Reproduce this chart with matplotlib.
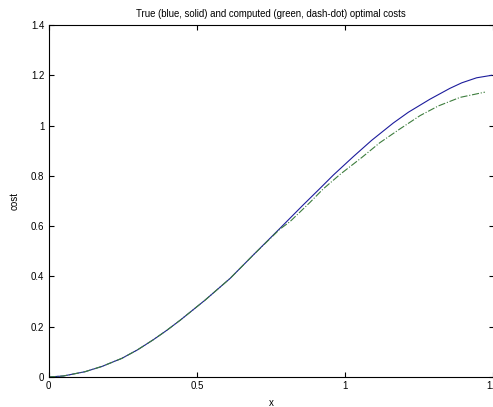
import numpy as np
import matplotlib.pyplot as plt

# True optimal cost (blue, solid)
x_true = [0.0, 0.05, 0.123, 0.18, 0.247, 0.30, 0.353, 0.398, 0.444, 0.527, 0.612, 0.690,
          0.780, 0.859, 0.915, 0.960, 1.027, 1.089, 1.162, 1.213, 1.286, 1.353,
          1.393, 1.443, 1.494]
cost_true = [0.0, 0.004, 0.021, 0.042, 0.074, 0.108, 0.148, 0.185, 0.226, 0.305, 0.392,
             0.485, 0.591, 0.685, 0.750, 0.803, 0.876, 0.941, 1.010, 1.053, 1.105,
             1.148, 1.170, 1.190, 1.200]

# Computed optimal cost (green, dash-dot)
x_comp = [0.0, 0.05, 0.123, 0.18, 0.247, 0.30, 0.353, 0.398, 0.444, 0.527, 0.612, 0.690,
          0.780, 0.814, 0.881, 0.926, 0.983, 1.056, 1.117, 1.185, 1.253, 1.314,
          1.387, 1.471]
cost_comp = [0.0, 0.004, 0.021, 0.042, 0.074, 0.108, 0.148, 0.185, 0.226, 0.305, 0.392,
             0.485, 0.588, 0.618, 0.694, 0.748, 0.806, 0.873, 0.932, 0.987, 1.040, 1.078,
             1.112, 1.133]

xticks = [0, 0.5, 1, 1.5]
xticklabels = ['0', '0.5', '1', '1.5']
yticks = [0, 0.2, 0.4, 0.6, 0.8, 1.0, 1.2, 1.4]
yticklabels = ['0', '0.2', '0.4', '0.6', '0.8', '1', '1.2', '1.4']

plt.rcParams['font.family'] = ['Liberation Sans', 'DejaVu Sans']
plt.rcParams['font.size'] = 7

fig = plt.figure(figsize=(4.93, 4.07), dpi=100)
ax = fig.add_axes([48.5 / 493, 30 / 407, 445 / 493, 352 / 407])

ax.plot(x_true, cost_true, '-', color='#1c1c9c', lw=0.8)
ax.plot(x_comp, cost_comp, '-.', color='#3d7d3d', lw=0.8)

ax.set_xlim(0, 1.5)
ax.set_ylim(0, 1.4)
ax.set_xticks(xticks)
ax.set_xticklabels(xticklabels)
ax.set_yticks(yticks)
ax.set_yticklabels(yticklabels)
ax.tick_params(direction='in', length=3.6, width=0.8, top=True, right=True, pad=3)
for s in ax.spines.values():
    s.set_linewidth(0.8)

ax.set_xlabel('x', labelpad=5)
ax.set_ylabel('cost', labelpad=8)
ax.set_title('True (blue, solid) and computed (green, dash-dot) optimal costs',
             fontsize=6.9, pad=6)

plt.savefig('out.png', dpi=100)
